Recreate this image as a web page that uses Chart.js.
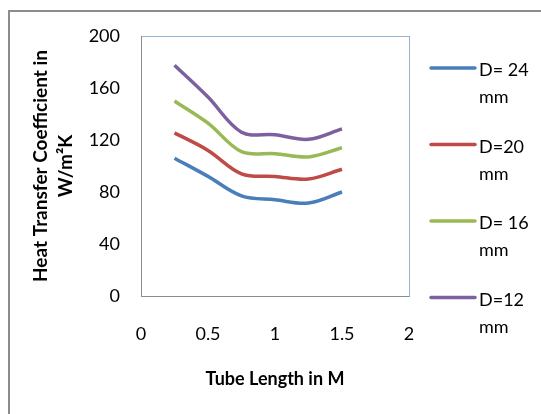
<!DOCTYPE html>
<html>
<head>
<meta charset="utf-8">
<script src="https://cdn.jsdelivr.net/npm/chart.js@4"></script>
<style>
  html, body { margin: 0; padding: 0; background: #fff; }
  #wrap { width: 541px; height: 414px; }
</style>
</head>
<body>
<div id="wrap"><canvas id="htc-chart" width="541" height="414"></canvas></div>
<script>
// tube length along x (m)
const lengths = [0.25, 0.5, 0.75, 1.0, 1.25, 1.5];

// heat transfer coefficient (W/m²K) per tube diameter
const d24 = [106, 92, 77, 74, 71.5, 80];
const d20 = [125.5, 112, 94, 92, 90, 97.5];
const d16 = [150, 133, 111, 109.5, 107, 114];
const d12 = [177.5, 153, 126, 124, 120.5, 128.5];

const seriesNames = ['D= 24 mm', 'D=20 mm', 'D= 16 mm', 'D=12 mm'];
const seriesColors = ['#4A7EBB', '#BE4B48', '#98B954', '#7D60A0'];

const xTicks = [0, 0.5, 1, 1.5, 2];
const yTicks = [0, 40, 80, 120, 160, 200];

const FONT = 'Lato, "Open Sans", sans-serif';

function toPoints(values) {
  return lengths.map((x, i) => ({ x: x, y: values[i] }));
}

// grey frame on the left and top of the chart object
const framePlugin = {
  id: 'frame',
  beforeDraw(chart) {
    const ctx = chart.ctx;
    ctx.save();
    ctx.strokeStyle = '#8c8c8c';
    ctx.lineWidth = 2;
    ctx.beginPath();
    ctx.moveTo(9, 414);
    ctx.lineTo(9, 11);
    ctx.lineTo(541, 11);
    ctx.stroke();
    ctx.restore();
  }
};

// light blue plot area outline, grey left/bottom edges as the axes
const plotBoxPlugin = {
  id: 'plotBox',
  beforeDatasetsDraw(chart) {
    const a = chart.chartArea;
    const ctx = chart.ctx;
    ctx.save();
    ctx.strokeStyle = '#95B3D7';
    ctx.lineWidth = 1;
    ctx.strokeRect(a.left + 0.5, a.top + 0.5, a.right - a.left, a.bottom - a.top);
    ctx.strokeStyle = '#8c8c8c';
    ctx.beginPath();
    ctx.moveTo(a.left + 0.5, a.top);
    ctx.lineTo(a.left + 0.5, a.bottom + 0.5);
    ctx.lineTo(a.right + 0.5, a.bottom + 0.5);
    ctx.stroke();
    ctx.restore();
  }
};

// legend with the unit wrapped onto a second line
const wrapLegendPlugin = {
  id: 'wrapLegend',
  afterDraw(chart) {
    const ctx = chart.ctx;
    ctx.save();
    ctx.font = '18px ' + FONT;
    ctx.textBaseline = 'alphabetic';
    ctx.fillStyle = '#000';
    chart.data.datasets.forEach((ds, i) => {
      const y = 68 + i * 76.5;
      ctx.strokeStyle = ds.borderColor;
      ctx.lineWidth = 3.5;
      ctx.lineCap = 'round';
      ctx.beginPath();
      ctx.moveTo(431, y);
      ctx.lineTo(475, y);
      ctx.stroke();
      const parts = ds.label.split(' mm');
      ctx.fillText(parts[0], 479, y + 8);
      ctx.fillText('mm', 479, y + 35);
    });
    ctx.restore();
  }
};

const chartCanvas = document.getElementById('htc-chart').getContext('2d');

const config = {
  type: 'line',
  data: {
    datasets: seriesNames.map((name, i) => ({
      label: name,
      data: toPoints([d24, d20, d16, d12][i]),
      borderColor: seriesColors[i],
      backgroundColor: seriesColors[i],
      borderWidth: 3.5,
      pointRadius: 0,
      tension: 0.35,
      fill: false
    }))
  },
  options: {
    responsive: false,
    animation: false,
    layout: { padding: { left: 0, top: 36, right: 132, bottom: 0 } },
    plugins: {
      legend: { display: false },
      tooltip: { enabled: false }
    },
    scales: {
      x: {
        type: 'linear',
        min: 0,
        max: 2,
        afterBuildTicks(axis) { axis.ticks = xTicks.map(v => ({ value: v })); },
        afterFit(axis) { axis.height = 118; },
        grid: { display: false, drawTicks: false },
        border: { display: false },
        ticks: {
          color: '#000',
          padding: 27,
          font: { family: FONT, size: 18 },
          callback: v => String(v)
        },
        title: {
          display: true,
          text: 'Tube Length in M',
          color: '#000',
          padding: { top: 4, bottom: 24 },
          font: { family: FONT, size: 18, weight: 'bold' }
        }
      },
      y: {
        min: 0,
        max: 200,
        afterBuildTicks(axis) { axis.ticks = yTicks.map(v => ({ value: v })); },
        afterFit(axis) { axis.width = 141; },
        grid: { display: false, drawTicks: false },
        border: { display: false },
        ticks: { color: '#000', padding: 21, font: { family: FONT, size: 18 } },
        title: {
          display: true,
          text: ['Heat Transfer Coefficient in', 'W/m\u00B2K'],
          color: '#000',
          padding: { top: 29 },
          font: { family: FONT, size: 19, weight: 'bold', lineHeight: 1.3 }
        }
      }
    }
  },
  plugins: [framePlugin, plotBoxPlugin, wrapLegendPlugin]
};

const htcChart = new Chart(chartCanvas, config);
</script>
</body>
</html>
